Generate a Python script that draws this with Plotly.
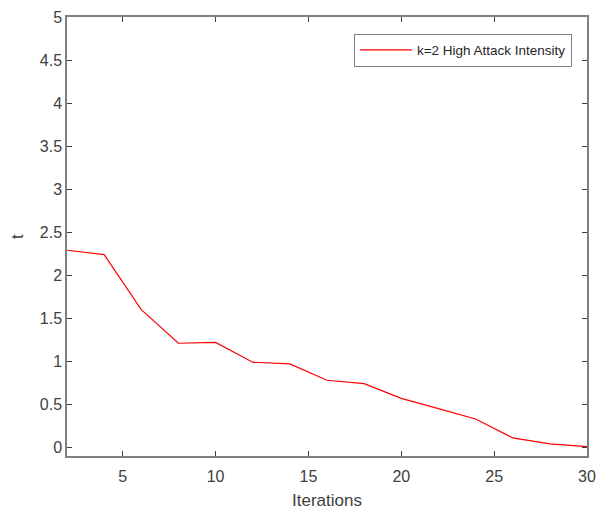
import plotly.graph_objects as go

iterations = [2, 4, 6, 8, 10, 12, 14, 16, 18, 20, 22, 24, 26, 28, 30]
t_values = [2.29, 2.24, 1.60, 1.21, 1.22, 0.99, 0.97, 0.78, 0.74, 0.57, 0.45, 0.33, 0.11, 0.04, 0.01]
series_name = "k=2 High Attack Intensity"
x_ticks = [5, 10, 15, 20, 25, 30]
y_ticks = [0, 0.5, 1, 1.5, 2, 2.5, 3, 3.5, 4, 4.5, 5]

FONT = "Liberation Sans, Arial, Helvetica"

fig = go.Figure()
fig.add_trace(go.Scatter(x=iterations, y=t_values, mode="lines", name=series_name,
                         line=dict(color="#ff0000", width=1.2)))

axis_common = dict(showline=True, linecolor="#808080", linewidth=1.5, mirror="ticks",
                   ticks="inside", ticklen=5, tickcolor="#404040", tickwidth=1,
                   showgrid=False, zeroline=False, ticklabeloverflow="allow",
                   tickfont=dict(family=FONT, size=16, color="#404040"))

fig.update_layout(
    width=603, height=504,
    margin=dict(l=59, r=24, t=9, b=56),
    plot_bgcolor="white", paper_bgcolor="white",
    showlegend=True,
    legend=dict(x=0.971, y=0.962, xanchor="right", yanchor="top",
                bordercolor="#808080", borderwidth=1, bgcolor="white",
                itemwidth=52, tracegroupgap=0,
                font=dict(family=FONT, size=13.5, color="#262626")),
    xaxis=dict(range=[2, 30], tickvals=x_ticks, ticklabelstandoff=5,
               title=dict(text="Iterations", standoff=10,
                          font=dict(family=FONT, size=17, color="#404040")),
               automargin=False, **axis_common),
    yaxis=dict(range=[-0.1, 5], tickvals=y_ticks,
               title=dict(text="t", standoff=12,
                          font=dict(family=FONT, size=17, color="#404040")),
               automargin=False, **axis_common),
)

fig.write_html("out.html")
